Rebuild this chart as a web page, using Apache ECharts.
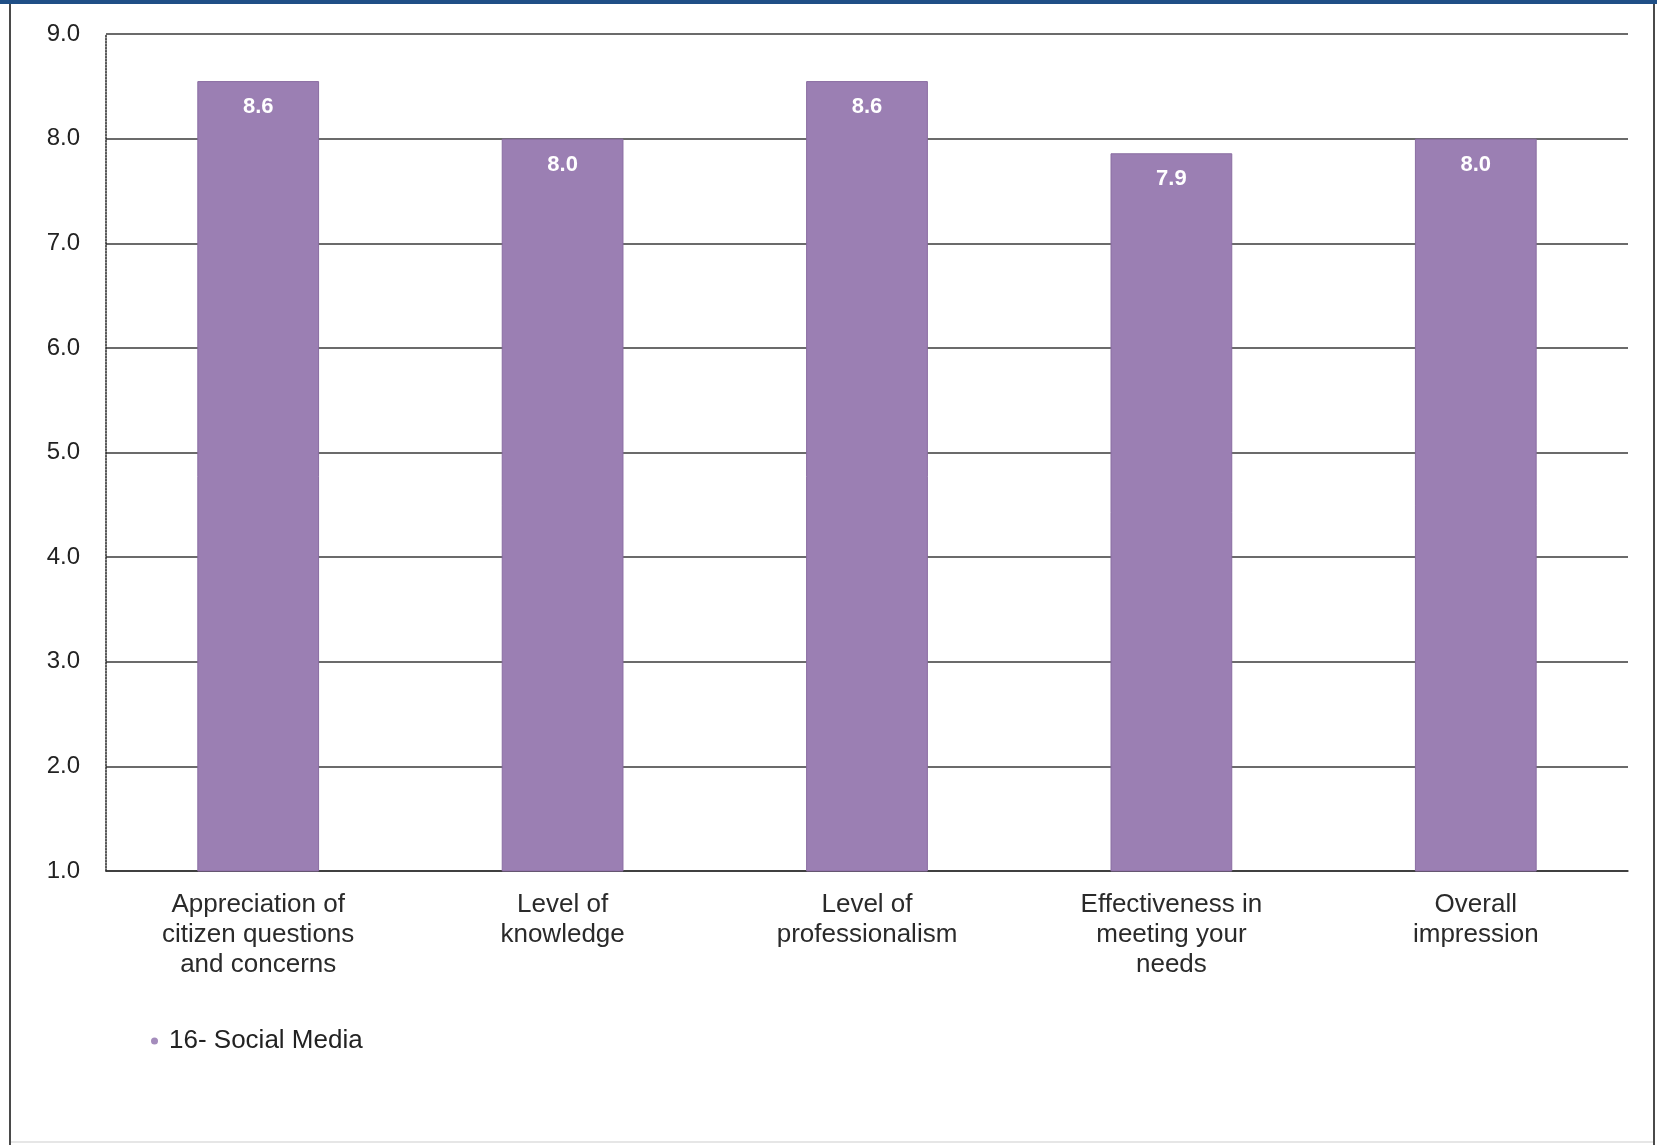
<!DOCTYPE html>
<html>
<head>
<meta charset="utf-8">
<script src="https://cdn.jsdelivr.net/npm/echarts@6/dist/echarts.min.js"></script>
<style>
html,body{margin:0;padding:0;background:#fff;}
#chart{width:1657px;height:1145px;}
</style>
</head>
<body>
<div id="chart"></div>
<script>
var categories = [
  "Appreciation of\ncitizen questions\nand concerns",
  "Level of\nknowledge",
  "Level of\nprofessionalism",
  "Effectiveness in\nmeeting your\nneeds",
  "Overall\nimpression"
];
var seriesName = "16- Social Media";
var values = [8.55, 8.0, 8.55, 7.86, 8.0];
var yMin = 1, yMax = 9, yStep = 1;

var chart = echarts.init(document.getElementById('chart'));
chart.setOption({
  backgroundColor: '#ffffff',
  animation: false,
  textStyle: { fontFamily: 'Liberation Sans, Arial, sans-serif' },
  graphic: [
    { type: 'rect', shape: { x: 0, y: 0, width: 1657, height: 4 }, style: { fill: '#1f4f86' } },
    { type: 'rect', shape: { x: 9, y: 4, width: 2, height: 1141 }, style: { fill: '#4a4a4a' } },
    { type: 'rect', shape: { x: 1653, y: 4, width: 2, height: 1141 }, style: { fill: '#4a4a4a' } },
    { type: 'rect', shape: { x: 11, y: 1141, width: 1642, height: 2 }, style: { fill: '#e6e6e6' } }
  ],
  grid: { left: 106, right: 29, top: 34, bottom: 274, containLabel: false },
  legend: {
    data: [seriesName],
    left: 146,
    top: 1023,
    icon: 'circle',
    itemWidth: 7,
    itemHeight: 7,
    itemStyle: { color: '#a48cbc', borderWidth: 0 },
    textStyle: { fontSize: 26, color: '#222', padding: [0, 0, 0, 6] }
  },
  xAxis: {
    type: 'category',
    data: categories,
    axisLine: { show: true, lineStyle: { color: '#333', width: 1.5 } },
    axisTick: { show: false },
    axisLabel: { interval: 0, fontSize: 26, lineHeight: 30, color: '#2a2a2a', margin: 19 }
  },
  yAxis: {
    type: 'value',
    min: yMin,
    max: yMax,
    interval: yStep,
    axisLine: { show: true, lineStyle: { color: '#222', width: 1.5, type: 'dotted' } },
    axisTick: { show: false },
    axisLabel: { fontSize: 24, color: '#222', margin: 26, formatter: function (v) { return v.toFixed(1); } },
    splitLine: { show: true, lineStyle: { color: '#3a3a3a', width: 1.5 } }
  },
  series: [{
    name: seriesName,
    type: 'bar',
    data: values,
    barWidth: '40%',
    itemStyle: { color: '#9b7fb3', borderColor: '#8a6da2', borderWidth: 1 },
    label: {
      show: true,
      position: 'insideTop',
      distance: 15,
      fontSize: 22,
      fontWeight: 'bold',
      color: '#ffffff',
      formatter: function (p) { return p.value.toFixed(1); }
    }
  }]
});
</script>
</body>
</html>
